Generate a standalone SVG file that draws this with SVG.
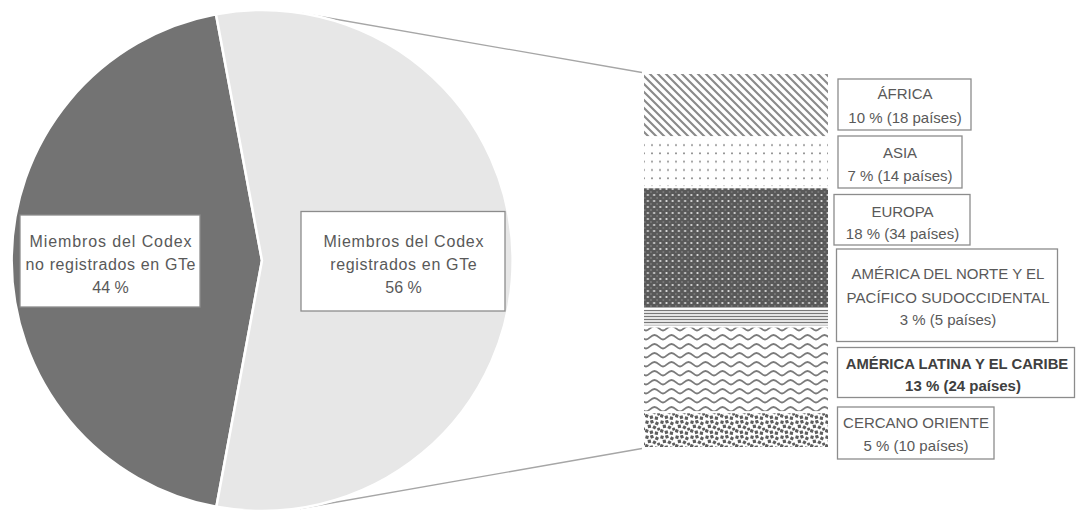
<svg xmlns="http://www.w3.org/2000/svg" width="1077" height="511" viewBox="0 0 1077 511">
<style>
.box{fill:#ffffff;stroke:#8c8c8c;stroke-width:1.3}
.t{font-family:"Liberation Sans",Arial,sans-serif;font-size:15px;fill:#595959;text-anchor:middle}
.tp{font-family:"Liberation Sans",Arial,sans-serif;font-size:16px;fill:#595959;text-anchor:middle}
.tb{font-family:"Liberation Sans",Arial,sans-serif;font-size:15px;font-weight:bold;fill:#404040;text-anchor:middle}
.seg{stroke:#ffffff;stroke-width:2}
.conn{stroke:#a6a6a6;stroke-width:1.3;fill:none}
</style>
<defs>
<pattern id="pAfrica" patternUnits="userSpaceOnUse" width="8" height="8">
<rect width="8" height="8" fill="#ffffff"/>
<path d="M-2,-2 L10,10 M-2,6 L2,10 M6,-2 L10,2" stroke="#8a8a8a" stroke-width="2.1"/>
</pattern>
<pattern id="pAsia" patternUnits="userSpaceOnUse" width="8" height="8.3">
<rect width="8" height="8.3" fill="#ffffff"/>
<circle cx="4" cy="4" r="1" fill="#8a8a8a"/>
</pattern>
<pattern id="pEuropa" patternUnits="userSpaceOnUse" width="6.2" height="6">
<rect width="6.2" height="6" fill="#595959"/>
<circle cx="3.1" cy="3" r="1.1" fill="#e0e0e0"/>
<circle cx="0" cy="0" r="0.7" fill="#9a9a9a"/>
<circle cx="6.2" cy="0" r="0.7" fill="#9a9a9a"/>
<circle cx="0" cy="6" r="0.7" fill="#9a9a9a"/>
<circle cx="6.2" cy="6" r="0.7" fill="#9a9a9a"/>
</pattern>
<pattern id="pNA" patternUnits="userSpaceOnUse" width="4" height="3">
<rect width="4" height="3" fill="#ffffff"/>
<rect y="0.8" width="4" height="1.4" fill="#787878"/>
</pattern>
<pattern id="pLA" patternUnits="userSpaceOnUse" width="17" height="9">
<rect width="17" height="9" fill="#ffffff"/>
<path d="M0,6.5 C3,6.5 5,2 8.5,2 C12,2 14,6.5 17,6.5" stroke="#7a7a7a" stroke-width="1.9" fill="none"/>
</pattern>
<pattern id="pCO" patternUnits="userSpaceOnUse" width="15" height="15">
<rect width="15" height="15" fill="#ffffff"/>
<g fill="#5e5e5e">
<rect x="0.4" y="0.6" width="3.2" height="3.2" transform="rotate(15 2 2.2)"/>
<rect x="5.3" y="0.1" width="3.2" height="3.2" transform="rotate(-20 6.9 1.7)"/>
<rect x="10.3" y="1.8" width="3.2" height="3.2" transform="rotate(25 11.9 3.4)"/>
<rect x="2.8" y="4.8" width="3.2" height="3.2" transform="rotate(-10 4.4 6.4)"/>
<rect x="7.8" y="5.8" width="3.2" height="3.2" transform="rotate(30 9.4 7.4)"/>
<rect x="12.2" y="7.7" width="2.9" height="2.9" transform="rotate(-25 13.6 9.1)"/>
<rect x="0.1" y="9.3" width="3.2" height="3.2" transform="rotate(20 1.7 10.9)"/>
<rect x="4.8" y="10.6" width="3.2" height="3.2" transform="rotate(-15 6.4 12.2)"/>
<rect x="9.8" y="11.6" width="3.2" height="3.2" transform="rotate(10 11.4 13.2)"/>
</g>
</pattern>
</defs>

<g id="connectors">
<line class="conn" x1="300" y1="13" x2="642" y2="72.5"/>
<line class="conn" x1="300" y1="508.5" x2="642" y2="448.5"/>
</g>

<g id="slice-no-registrados">
<path d="M262,260.5 L216,14.3 A250.5,250.5 0 0 0 216.4,506.8 Z" fill="#737373" stroke="#ffffff" stroke-width="2.5" stroke-linejoin="miter"/>
<rect class="box" x="20" y="215" width="180" height="92"/>
<text class="tp" x="110.5" y="246.5" textLength="162" lengthAdjust="spacing">Miembros del Codex</text>
<text class="tp" x="110.5" y="269.5" textLength="170" lengthAdjust="spacing">no registrados en GTe</text>
<text class="tp" x="110.5" y="292.5">44 %</text>
</g>

<g id="slice-registrados">
<path d="M262,260.5 L216,14.3 A250.5,250.5 0 1 1 216.4,506.8 Z" fill="#e7e7e7" stroke="#ffffff" stroke-width="2.5" stroke-linejoin="miter"/>
<rect class="box" x="301" y="211.5" width="204" height="99.5"/>
<text class="tp" x="403.5" y="246.5" textLength="160" lengthAdjust="spacing">Miembros del Codex</text>
<text class="tp" x="403.5" y="269.5" textLength="146.5" lengthAdjust="spacing">registrados en GTe</text>
<text class="tp" x="403.5" y="292.5">56 %</text>
</g>

<g id="bar-africa">
<rect class="seg" x="643" y="73" width="186" height="64.3" fill="url(#pAfrica)"/>
<rect class="box" x="838" y="79" width="133" height="51"/>
<text class="t" x="905" y="99.3">ÁFRICA</text>
<text class="t" x="905" y="123.3">10 % (18 países)</text>
</g>

<g id="bar-asia">
<rect class="seg" x="643" y="137.3" width="186" height="50" fill="url(#pAsia)"/>
<rect class="box" x="838" y="136" width="124" height="52"/>
<text class="t" x="900" y="158.3">ASIA</text>
<text class="t" x="900" y="180.7">7 % (14 países)</text>
</g>

<g id="bar-europa">
<rect class="seg" x="643" y="187.3" width="186" height="121.4" fill="url(#pEuropa)"/>
<rect class="box" x="834" y="194.5" width="136" height="50.5"/>
<text class="t" x="902.5" y="216.7">EUROPA</text>
<text class="t" x="902.5" y="238.5">18 % (34 países)</text>
</g>

<g id="bar-america-norte">
<rect class="seg" x="643" y="308.7" width="186" height="17.9" fill="url(#pNA)"/>
<rect class="box" x="836.5" y="249" width="221" height="92.5"/>
<text class="t" x="948" y="279.3">AMÉRICA DEL NORTE Y EL</text>
<text class="t" x="948" y="303.3" textLength="203" lengthAdjust="spacing">PACÍFICO SUDOCCIDENTAL</text>
<text class="t" x="948" y="325.3">3 % (5 países)</text>
</g>

<g id="bar-america-latina">
<rect class="seg" x="643" y="326.6" width="186" height="85.7" fill="url(#pLA)"/>
<rect class="box" x="837.5" y="347.5" width="237" height="50"/>
<text class="tb" x="957" y="369" textLength="222.5" lengthAdjust="spacingAndGlyphs">AMÉRICA LATINA Y EL CARIBE</text>
<text class="tb" x="963" y="391">13 % (24 países)</text>
</g>

<g id="bar-cercano-oriente">
<rect class="seg" x="643" y="412.3" width="186" height="35.7" fill="url(#pCO)"/>
<rect class="box" x="837.5" y="407" width="156.5" height="52"/>
<text class="t" x="916" y="428.3">CERCANO ORIENTE</text>
<text class="t" x="916" y="450.7">5 % (10 países)</text>
</g>
</svg>
